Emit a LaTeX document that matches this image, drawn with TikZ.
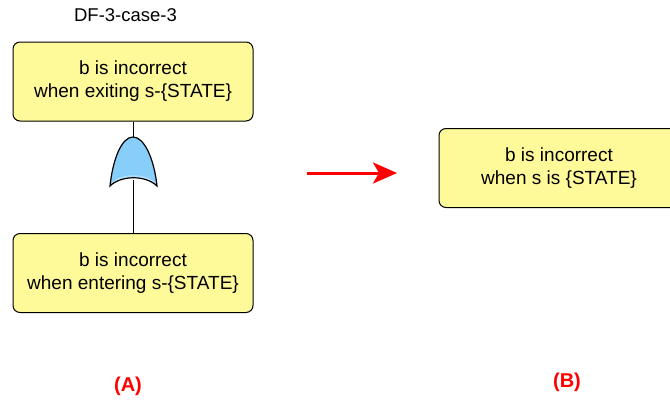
\documentclass[tikz,border=0pt]{standalone}
\usepackage{fontspec}
\setmainfont{Liberation Sans}
\usetikzlibrary{arrows.meta}
\definecolor{gateblue}{RGB}{135,206,250}
\tikzset{
  event/.style={draw=black, fill=yellow!40, rounded corners=7pt, line width=1pt,
    minimum width=240pt, minimum height=79pt, inner sep=0pt, align=center,
    font=\fontsize{19}{23}\selectfont},
  caselabel/.style={text=red, font=\fontsize{20}{22}\selectfont\bfseries}
}

\begin{document}
\begin{tikzpicture}[x=1pt,y=-1pt]
      \useasboundingbox (0,0) rectangle (670,402);
      \node[font=\fontsize{18.5}{20}\selectfont] (title) at (125.5,15) {DF-3-case-3};
      \node[event] (exit) at (133,81.5) {b is incorrect\\when exiting s-\{STATE\}};
      \node[event] (enter) at (133,273) {b is incorrect\\when entering s-\{STATE\}};
      \node[event] (state) at (559,168) {b is incorrect\\when s is \{STATE\}};
      % or gate
      \coordinate (gtop) at (133,137);
      \coordinate (gbot) at (133,180);
      \draw[line width=1pt] (exit) -- (gtop);
      \draw[line width=1pt] (gbot) -- (enter);
      \fill[gateblue] (110,186) .. controls (113,158) and (122,137) .. (gtop)
        .. controls (144,137) and (154,158) .. (157,186)
        .. controls (146,175) and (121,175) .. (110,186) -- cycle;
      \shade[top color=gateblue, bottom color=white] (111,184) .. controls (122,172) and (145,172) .. (156,184)
        .. controls (146,176) and (121,176) .. (111,184) -- cycle;
      \draw[line width=1.2pt] (110,186) .. controls (113,158) and (122,137) .. (gtop)
        .. controls (144,137) and (154,158) .. (157,186)
        .. controls (146,175) and (121,175) .. (110,186) -- cycle;
      % arrow
      \coordinate (arrA) at (307,173);
      \coordinate (arrB) at (397,173);
      \draw[red, line width=3pt, -{Stealth[length=24pt,width=21pt,inset=6pt]}] (arrA) -- (arrB);
      \node[caselabel] (A) at (128,386) {(A)};
      \node[caselabel] (B) at (567,382) {(B)};
\end{tikzpicture}
\end{document}
